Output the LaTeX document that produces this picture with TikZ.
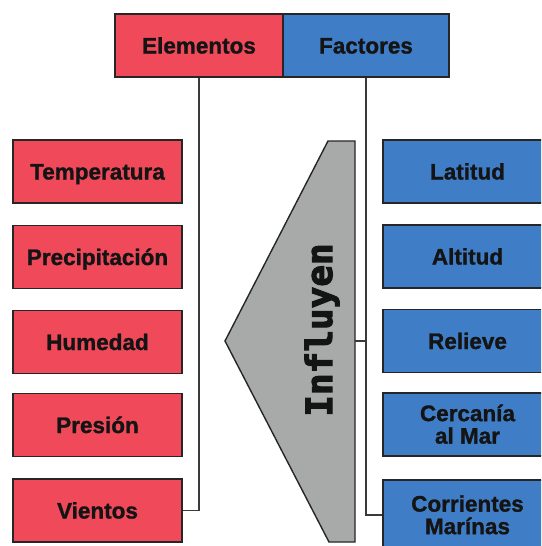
\documentclass[tikz,border=0pt]{standalone}
\usepackage{fontspec}
\setmainfont{Liberation Sans}[BoldFeatures={FakeBold=1.2}]
\newfontfamily\monobold{DejaVu Sans Mono}[BoldFeatures={FakeBold=3}]
\definecolor{boxred}{HTML}{F04A5A}
\definecolor{boxblue}{HTML}{3F7EC6}
\definecolor{wedgegray}{HTML}{A8AAA9}
\definecolor{edgedark}{HTML}{262626}
\definecolor{linegray}{HTML}{3A3A3A}
\begin{document}
\begin{tikzpicture}[x=1pt,y=-1pt,
  box/.style={draw=edgedark,line width=1.4pt,minimum width=169pt,minimum height=63pt,inner sep=0pt,
    align=center,font=\fontsize{22.5}{22.5}\selectfont\bfseries,text=black!92,
    text height=20pt,text depth=4pt},
  twoline/.style={text height=40pt,text depth=1.75pt},
  elem/.style={box,fill=boxred},
  fact/.style={box,fill=boxblue},
  conn/.style={draw=linegray,line width=1.4pt}]
\useasboundingbox (0,0) rectangle (541,546);
\clip (0,0) rectangle (541,546);
\fill[white] (0,0) rectangle (541,546);
% top headers
\node[elem,minimum width=168pt] (elementos) at (199,45.5) {Elementos};
\node[fact,minimum width=166pt] (factores) at (366,45.5) {Factores};
% left boxes
\node[elem] (temp) at (97.5,171.5) {Temperatura};
\node[elem] (prec) at (97.5,257) {Precipitación};
\node[elem] (hum) at (97.5,342) {Humedad};
\node[elem] (pres) at (97.5,425) {Presión};
\node[elem] (vien) at (97.5,510.5) {Vientos};
% right boxes
\node[fact] (lat) at (467.5,171.5) {Latitud};
\node[fact] (alt) at (467.5,256.5) {Altitud};
\node[fact] (rel) at (467.5,341) {Relieve};
\node[fact,twoline] (cer) at (467.5,424.5) {Cercanía\\al Mar};
\node[fact,twoline,minimum height=70pt] (cor) at (467.5,515) {Corrientes\\Marínas};
% wedge
\coordinate (wtr) at (355,141);
\coordinate (wbr) at (355,542);
\coordinate (wmid) at (355,341);
\draw[draw=edgedark,line width=1.4pt,fill=wedgegray,line join=miter]
  (328,141) -- (wtr) -- (wbr) -- (329,542) -- (225,341) -- cycle;
\node[rotate=90,anchor=base,inner sep=0pt,font=\monobold\fontsize{36}{36}\selectfont\bfseries,text=black!92] (infl) at (332,330) {Influyen};
% connectors
\coordinate (ebend) at (199,510.5);
\coordinate (fbend) at (366,515);
\coordinate (fmid) at (366,341);
\draw[conn] (elementos.south) -- (ebend) -- (vien.east);
\draw[conn] (factores.south) -- (fbend) -- (cor.west);
\draw[conn] (fmid) -- (wmid);
\end{tikzpicture}
\end{document}
